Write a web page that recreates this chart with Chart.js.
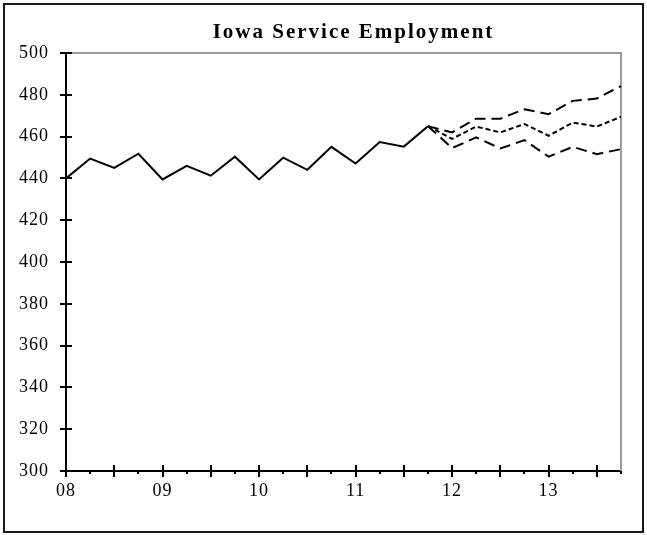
<!DOCTYPE html>
<html>
<head>
<meta charset="utf-8">
<script src="https://cdn.jsdelivr.net/npm/chart.js@4.4.1/dist/chart.umd.min.js"></script>
<style>
  html, body { margin: 0; padding: 0; background: #fff; }
  canvas { display: block; }
</style>
</head>
<body>
<canvas id="chart" width="647" height="535"></canvas>
<script>
// quarters 2008Q1 .. 2011Q4 (actual) and 2011Q4 .. 2013Q4 (forecast)
const actualQuarters = [2008, 2008.25, 2008.5, 2008.75, 2009, 2009.25, 2009.5, 2009.75,
                        2010, 2010.25, 2010.5, 2010.75, 2011, 2011.25, 2011.5, 2011.75];
const actualValues = [440, 449.5, 445, 451.8, 439.5, 446, 441.3, 450.4,
                      439.5, 449.9, 444.1, 455.1, 447.1, 457.4, 455.2, 465];

const forecastQuarters = [2011.75, 2012, 2012.25, 2012.5, 2012.75, 2013, 2013.25, 2013.5, 2013.75];
const upperValues = [465, 462, 468.6, 468.6, 473.1, 470.7, 477.1, 478.2, 484.2];
const baseValues = [465, 458.9, 464.8, 462, 466, 460.4, 466.7, 464.8, 469.5];
const lowerValues = [465, 454.5, 459.6, 454.3, 458.3, 450.4, 455.1, 451.6, 454];

const chartTitle = "Iowa Service Employment";
const yMin = 300, yMax = 500, yStep = 20;
const xMin = 2008, xMax = 2013.75, xStep = 0.25;

const serif = "'Liberation Serif', 'Times New Roman', serif";

function toPoints(xs, ys) {
  return xs.map((x, i) => ({ x: x, y: ys[i] }));
}

// the original text is a little wider than plain Times
const spacing = {
  id: "spacing",
  beforeLayout(chart) { chart.ctx.letterSpacing = "1px"; },
  beforeDraw(chart) { chart.ctx.letterSpacing = "1px"; }
};

// outer frame, gray plot border, crossing tick marks and the title
const decorations = {
  id: "decorations",
  beforeDatasetsDraw(chart) {
    const { ctx, chartArea } = chart;
    ctx.save();
    ctx.strokeStyle = "#9a9a9a";
    ctx.lineWidth = 2;
    ctx.beginPath();
    ctx.moveTo(chartArea.left, chartArea.top);
    ctx.lineTo(chartArea.right, chartArea.top);
    ctx.lineTo(chartArea.right, chartArea.bottom);
    ctx.stroke();
    ctx.restore();
  },
  afterDraw(chart) {
    const { ctx, chartArea, scales } = chart;
    ctx.save();
    ctx.strokeStyle = "#000";
    ctx.lineWidth = 2;

    // y ticks cross the axis
    scales.y.ticks.forEach(t => {
      const py = Math.round(scales.y.getPixelForValue(t.value));
      ctx.beginPath();
      ctx.moveTo(chartArea.left - 6, py);
      ctx.lineTo(chartArea.left + 6, py);
      ctx.stroke();
    });

    // x ticks: long at half years, short at the other quarters
    scales.x.ticks.forEach(t => {
      const px = Math.round(scales.x.getPixelForValue(t.value));
      const half = Number.isInteger(t.value * 2);
      ctx.beginPath();
      ctx.moveTo(px, half ? chartArea.bottom - 6 : chartArea.bottom);
      ctx.lineTo(px, chartArea.bottom + (half ? 6 : 3));
      ctx.stroke();
    });

    // outer frame
    ctx.strokeStyle = "#1a1a1a";
    ctx.lineWidth = 2;
    ctx.strokeRect(4, 4, chart.width - 8, chart.height - 7);

    // title
    ctx.fillStyle = "#000";
    ctx.font = "bold 21px " + serif;
    ctx.letterSpacing = "2px";
    ctx.textAlign = "center";
    ctx.textBaseline = "middle";
    ctx.fillText(chartTitle, (chartArea.left + chartArea.right) / 2 + 10, 33);
    ctx.restore();
  }
};

new Chart(document.getElementById("chart"), {
  type: "line",
  data: {
    datasets: [
      {
        label: "Actual",
        data: toPoints(actualQuarters, actualValues),
        borderColor: "#000",
        borderWidth: 2,
        pointRadius: 0,
        tension: 0
      },
      {
        label: "High",
        data: toPoints(forecastQuarters, upperValues),
        borderColor: "#000",
        borderWidth: 2,
        borderDash: [11, 6],
        pointRadius: 0,
        tension: 0
      },
      {
        label: "Baseline",
        data: toPoints(forecastQuarters, baseValues),
        borderColor: "#000",
        borderWidth: 2,
        borderDash: [5, 3],
        pointRadius: 0,
        tension: 0
      },
      {
        label: "Low",
        data: toPoints(forecastQuarters, lowerValues),
        borderColor: "#000",
        borderWidth: 2,
        borderDash: [11, 6],
        pointRadius: 0,
        tension: 0
      }
    ]
  },
  options: {
    responsive: false,
    animation: false,
    devicePixelRatio: 1,
    layout: {
      padding: { top: 53, right: 26, bottom: 0, left: 0 }
    },
    plugins: {
      legend: { display: false },
      title: { display: false },
      tooltip: { enabled: false }
    },
    scales: {
      x: {
        type: "linear",
        min: xMin,
        max: xMax,
        grid: { display: false, drawTicks: false },
        border: { display: true, color: "#000", width: 2 },
        ticks: {
          stepSize: xStep,
          autoSkip: false,
          maxRotation: 0,
          padding: 9,
          color: "#000",
          font: { family: serif, size: 18 },
          callback: function(value) {
            if (!Number.isInteger(value)) return "";
            return String(value % 100).padStart(2, "0");
          }
        },
        afterFit: function(scale) { scale.height = 64; }
      },
      y: {
        min: yMin,
        max: yMax,
        grid: { display: false, drawTicks: false },
        border: { display: true, color: "#000", width: 2 },
        ticks: {
          stepSize: yStep,
          padding: 17,
          color: "#000",
          font: { family: serif, size: 18 }
        },
        afterFit: function(scale) { scale.width = 66; }
      }
    }
  },
  plugins: [spacing, decorations]
});
</script>
</body>
</html>
